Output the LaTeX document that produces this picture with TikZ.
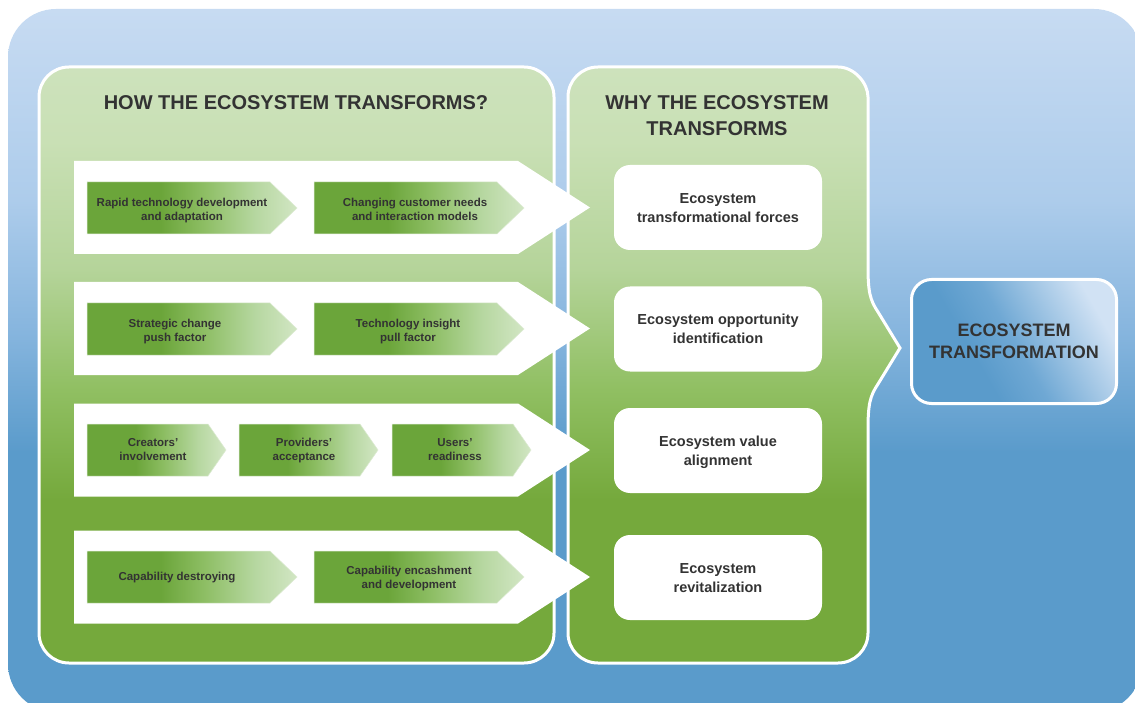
\documentclass[tikz,border=0pt]{standalone}
\usepackage{fontspec}
\setmainfont{Liberation Sans}
\usetikzlibrary{calc}

% palette
\definecolor{txt}{HTML}{333333}
\definecolor{blueD}{HTML}{5A9BCB}
\definecolor{blueM}{HTML}{86B5DE}
\definecolor{blueL}{HTML}{ADCCEB}
\definecolor{blueT}{HTML}{C7DBF2}
\definecolor{grnD}{HTML}{75A93C}
\definecolor{grnA}{HTML}{90BF62}
\definecolor{grnB}{HTML}{B5D49A}
\definecolor{grnC}{HTML}{C9E0B5}
\definecolor{grnT}{HTML}{CDE2BC}
\definecolor{chD}{HTML}{6BA53A}
\definecolor{chM}{HTML}{8CBD62}
\definecolor{chL}{HTML}{B6D7A0}
\definecolor{chT}{HTML}{D2E6C4}
\definecolor{chEdge}{HTML}{DDEBD3}
\definecolor{fbD}{HTML}{5A9BCB}
\definecolor{fbM}{HTML}{6FA8D4}
\definecolor{fbL}{HTML}{D1E2F4}

% background, panels, chevrons and the result box
\pgfdeclareverticalshading{bgblue}{100bp}{color(0bp)=(blueD); color(43.5bp)=(blueD);
  color(52bp)=(blueM); color(61.4bp)=(blueL); color(75bp)=(blueT); color(100bp)=(blueT)}
\pgfdeclareverticalshading{panelgreen}{100bp}{color(0bp)=(grnD); color(38.7bp)=(grnD);
  color(47.9bp)=(grnA); color(58.1bp)=(grnB); color(68.8bp)=(grnC); color(75bp)=(grnT); color(100bp)=(grnT)}
\pgfdeclarehorizontalshading{chevgreen}{100bp}{color(0bp)=(chD); color(42.5bp)=(chD);
  color(52.5bp)=(chM); color(65bp)=(chL); color(75bp)=(chT); color(100bp)=(chT)}
\pgfdeclarehorizontalshading{finalblue}{100bp}{color(0bp)=(fbD); color(38bp)=(fbD);
  color(50bp)=(fbM); color(75bp)=(fbL); color(100bp)=(fbL)}

\tikzset{
  panel/.style={shading=panelgreen, draw=white, line width=3pt},
  chevtext/.style={font=\bfseries\fontsize{11.5}{14.5}\selectfont, text=txt, align=center, inner sep=0pt},
  wbox/.style={fill=white, rounded corners=16pt, minimum width=208pt, minimum height=85pt,
    font=\bfseries\fontsize{14.5}{19}\selectfont, text=txt, align=center, inner sep=0pt},
  titletext/.style={font=\bfseries\fontsize{20}{26}\selectfont, text=txt, align=center, inner sep=0pt},
  finalbox/.style={shading=finalblue, shading angle=30, draw=white, line width=3pt,
    rounded corners=20pt, minimum width=205pt, minimum height=124pt,
    font=\bfseries\fontsize{18}{21.5}\selectfont, text=txt, align=center, inner sep=0pt},
}

% white band with arrow head, centred on y=#1
\newcommand\whiteband[1]{%
  \fill[white] (74,#1-46.5) -- (518,#1-46.5) -- (590,#1) -- (518,#1+46.5) -- (74,#1+46.5) -- cycle;}
% green chevron: left x, tip x, centre y, slant width
\newcommand\chevron[4]{%
  \shadedraw[shading=chevgreen, draw=chEdge, line width=0.5pt]
    (#1,#3-26) -- (#2-#4,#3-26) -- (#2,#3) -- (#2-#4,#3+26) -- (#1,#3+26) -- cycle;}

\begin{document}
\begin{tikzpicture}[x=1pt,y=-1pt]
\useasboundingbox (0,0) rectangle (1135,703);

% blue background
\begin{scope}
  \clip (0,0) rectangle (1135,703);
  \shade[shading=bgblue, rounded corners=48pt] (8,9) rectangle (1142,712);
\end{scope}

% left panel
\shadedraw[panel, rounded corners=30pt] (39,67) rectangle (554,663);

% right panel with its arrow bulge
\shadedraw[panel] (598,67) -- (838,67)
  .. controls (854.6,67) and (868,83.4) .. (868,97)
  -- (868,266) .. controls (868,292) and (870,300) .. (878,312)
  -- (900,348) -- (878,384)
  .. controls (870,396) and (868,404) .. (868,430)
  -- (868,633) .. controls (868,649.6) and (854.6,663) .. (838,663)
  -- (598,663) .. controls (581.4,663) and (568,649.6) .. (568,633)
  -- (568,97) .. controls (568,80.4) and (581.4,67) .. (598,67) -- cycle;

% titles
\node[titletext] (howtitle) at (296,102.5) {HOW THE ECOSYSTEM TRANSFORMS?};
\node[titletext] (whytitle) at (717,116) {WHY THE ECOSYSTEM\\TRANSFORMS};

% rows of drivers
\whiteband{207.5}
\whiteband{328.5}
\whiteband{450}
\whiteband{577}

\chevron{87}{297}{208}{27}
\chevron{314}{524}{208}{27}
\chevron{87}{297}{329}{27}
\chevron{314}{524}{329}{27}
\chevron{87}{226}{450}{18}
\chevron{239}{378}{450}{18}
\chevron{392}{531}{450}{18}
\chevron{87}{297}{577}{27}
\chevron{314}{524}{577}{27}

\node[chevtext] (rapid) at (182,210.5) {\strut Rapid technology development\\\strut and adaptation};
\node[chevtext] (changing) at (415,210.5) {\strut Changing customer needs\\\strut and interaction models};
\node[chevtext] (strategic) at (175,331.5) {\strut Strategic change\\\strut push factor};
\node[chevtext] (insight) at (408,331.5) {\strut Technology insight\\\strut pull factor};
\node[chevtext] (creators) at (153,450.5) {\strut Creators’\\\strut involvement};
\node[chevtext] (providers) at (304,450.5) {\strut Providers’\\\strut acceptance};
\node[chevtext] (users) at (455,450.5) {\strut Users’\\\strut readiness};
\node[chevtext] (destroy) at (177,578) {\strut Capability destroying};
\node[chevtext] (encash) at (409,578.5) {\strut Capability encashment\\\strut and development};

% reasons
\node[wbox] (forces) at (718,207.5) {};
\node[wbox] (opport) at (718,329) {};
\node[wbox] (value) at (718,450.5) {};
\node[wbox] (revital) at (718,577.5) {};
\node[wbox, fill=none] (forcesT) at (718,209) {\strut Ecosystem\\\strut transformational forces};
\node[wbox, fill=none] (opportT) at (718,330.5) {\strut Ecosystem opportunity\\\strut identification};
\node[wbox, fill=none] (valueT) at (718,452) {\strut Ecosystem value\\\strut alignment};
\node[wbox, fill=none] (revitalT) at (718,579) {\strut Ecosystem\\\strut revitalization};

% result
\node[finalbox] (result) at (1014,341.5) {ECOSYSTEM\\TRANSFORMATION};
\end{tikzpicture}
\end{document}
